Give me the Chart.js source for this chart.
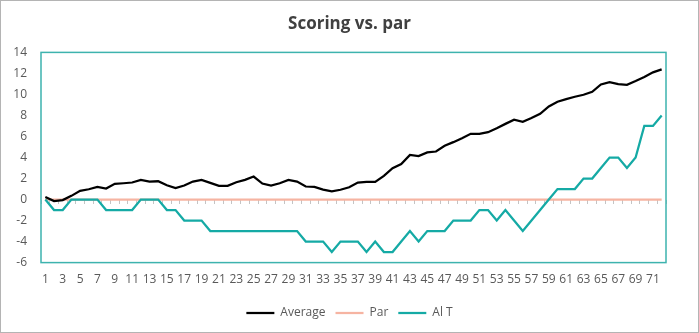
<!DOCTYPE html>
<html>
<head>
<meta charset="utf-8">
<script src="https://cdn.jsdelivr.net/npm/chart.js@4"></script>
<style>
  html, body { margin: 0; padding: 0; background: #fff; }
  #wrap { width: 699px; height: 333px; box-sizing: border-box; border: 1px solid #b4b4b4; position: relative; }
  canvas { display: block; }
</style>
</head>
<body>
<div id="wrap"><canvas id="c" width="697" height="331"></canvas></div>
<script>
const categories = Array.from({length: 72}, (_, i) => String(i + 1));
const average = [0.24, -0.15, -0.05, 0.35, 0.83, 0.98, 1.2, 1.05, 1.49, 1.55, 1.62, 1.87, 1.71, 1.74, 1.36, 1.08, 1.33, 1.71, 1.87, 1.59, 1.3, 1.3, 1.65, 1.87, 2.19, 1.52, 1.33, 1.55, 1.87, 1.71, 1.24, 1.21, 0.95, 0.79, 0.93, 1.17, 1.62, 1.68, 1.68, 2.25, 2.98, 3.37, 4.25, 4.13, 4.48, 4.57, 5.11, 5.46, 5.84, 6.25, 6.25, 6.41, 6.79, 7.2, 7.59, 7.4, 7.75, 8.16, 8.86, 9.3, 9.56, 9.78, 9.97, 10.25, 10.95, 11.17, 10.98, 10.92, 11.27, 11.65, 12.1, 12.38];
const par = categories.map(() => 0);
const alT = [0, -1, -1, 0, 0, 0, 0, -1, -1, -1, -1, 0, 0, 0, -1, -1, -2, -2, -2, -3, -3, -3, -3, -3, -3, -3, -3, -3, -3, -3, -4, -4, -4, -5, -4, -4, -4, -5, -4, -5, -5, -4, -3, -4, -3, -3, -3, -2, -2, -2, -1, -1, -2, -1, -2, -3, -2, -1, 0, 1, 1, 1, 2, 2, 3, 4, 4, 3, 4, 7, 7, 8];
const yTicks = { min: -6, max: 14, step: 2 };

Chart.defaults.font.family = "'Open Sans', 'Noto Sans', sans-serif";
Chart.defaults.font.size = 12;
Chart.defaults.color = '#595959';

const teal = '#15aaa5';
const plotBorder = {
  id: 'plotBorder',
  beforeDatasetsDraw(chart) {
    const a = chart.chartArea, ctx = chart.ctx;
    ctx.save();
    ctx.strokeStyle = '#3db3ae';
    ctx.lineWidth = 1.5;
    ctx.strokeRect(a.left, a.top, a.right - a.left, a.bottom - a.top);
    ctx.restore();
  }
};

new Chart(document.getElementById('c'), {
  type: 'line',
  data: {
    labels: categories,
    datasets: [
      { label: 'Average', data: average, borderColor: '#000000', backgroundColor: '#000000', borderWidth: 2.25, pointRadius: 0, tension: 0, order: 0 },
      { label: 'Par', data: par, borderColor: '#f6b4a2', backgroundColor: '#f6b4a2', borderWidth: 2.25, pointRadius: 0, tension: 0, order: 2 },
      { label: 'Al T', data: alT, borderColor: teal, backgroundColor: teal, borderWidth: 2.25, pointRadius: 0, tension: 0, order: 1 }
    ]
  },
  options: {
    responsive: false,
    animation: false,
    layout: { padding: { left: 0, right: 0, top: 0, bottom: 3 } },
    plugins: {
      title: { display: true, text: 'Scoring vs. par', color: '#404040', font: { size: 17, weight: 'bold' }, padding: { top: 13, bottom: 18 } },
      legend: {
        position: 'bottom',
        labels: {
          usePointStyle: true, pointStyle: 'line', pointStyleWidth: 28, color: '#595959', font: { size: 12 }, padding: 10,
          sort: (a, b) => a.datasetIndex - b.datasetIndex
        }
      },
      tooltip: { enabled: false }
    },
    scales: {
      x: {
        type: 'category',
        offset: true,
        grid: { display: false, drawTicks: false, offset: true },
        border: { display: false },
        ticks: {
          autoSkip: false, maxRotation: 0, padding: 10, color: '#595959',
          callback: function (v, i) { return i % 2 === 0 ? categories[i] : ''; }
        }
      },
      x2: {
        type: 'category',
        labels: categories,
        offset: true,
        position: { y: 0 },
        grid: { display: true, drawOnChartArea: false, drawTicks: true, tickLength: 4, color: '#c4c4c4', offset: true },
        border: { display: false },
        ticks: { display: false, autoSkip: false }
      },
      y: {
        min: yTicks.min, max: yTicks.max,
        ticks: { stepSize: yTicks.step, padding: 14, color: '#595959' },
        grid: { display: false, drawTicks: false },
        border: { display: false },
        afterFit(scale) { scale.width = 40; }
      },
      yRight: {
        position: 'right',
        min: yTicks.min, max: yTicks.max,
        ticks: { display: false },
        grid: { display: false, drawTicks: false },
        border: { display: false },
        afterFit(scale) { scale.width = 32; }
      }
    }
  },
  plugins: [plotBorder]
});
</script>
</body>
</html>
